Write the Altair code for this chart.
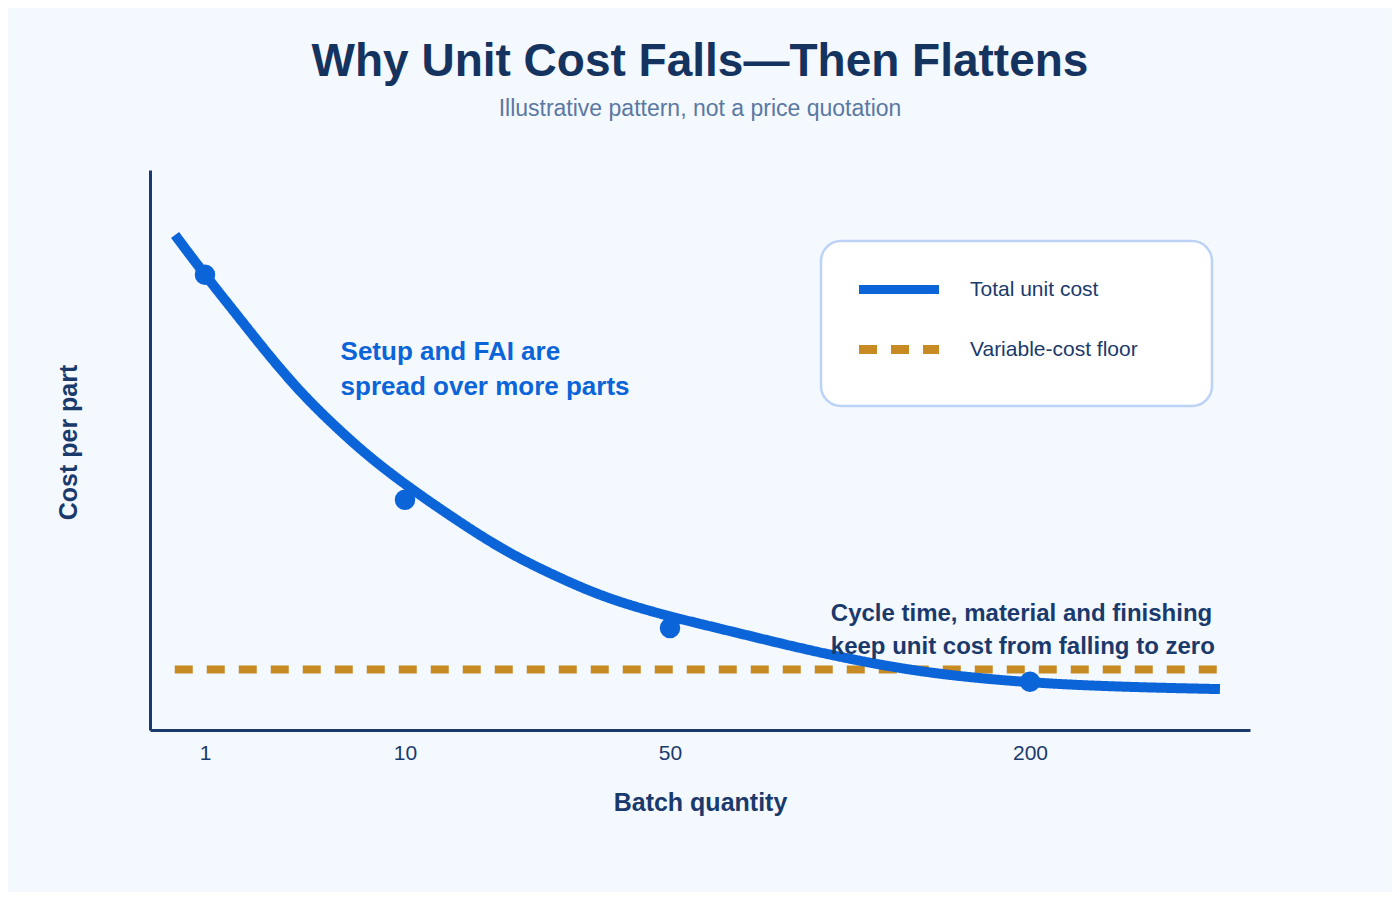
import altair as alt
import pandas as pd

# ---- data ----
series_names = ["Total unit cost", "Variable-cost floor"]
series_colors = ["#0b64d8", "#c88a22"]

curve_qty = [0.455, 1, 2.44, 3.93, 5.41, 6.94, 8.43, 10.75, 17.25, 24.8, 32.3, 39.9, 47.4,
             56.3, 83.3, 112.5, 154.2, 200, 281.8, 372.7]
curve_cost = [88.4, 81.25, 74.1, 66.6, 59.8, 53.9, 48.6, 43.2, 37.9, 32.1, 27.7, 23.75, 21.1,
              19.6, 16.8, 13.75, 10.2, 8.4, 7.7, 7.3]

floor_qty = [0.45, 371]
floor_cost = [10.8, 10.8]

point_qty = [1, 10, 50, 200]
point_cost = [81.3, 41.1, 18.2, 8.6]

tick_values = [1, 10, 50, 200]

note_qty = [7.1, 117]
note_cost = [66.1, 19.5]
note_lines = [["Setup and FAI are", "spread over more parts"],
              ["Cycle time, material and finishing", "keep unit cost from falling to zero"]]

FONT = "Liberation Sans"
NAVY = "#1b3a6c"
BG = "#f4f8ff"

curve_df = pd.DataFrame({"qty": curve_qty, "cost": curve_cost, "series": series_names[0]})
floor_df = pd.DataFrame({"qty": floor_qty, "cost": floor_cost, "series": series_names[1]})
point_df = pd.DataFrame({"qty": point_qty, "cost": point_cost})
note1_df = pd.DataFrame({"qty": [note_qty[0]], "cost": [note_cost[0]], "txt": [note_lines[0]]})
note2_df = pd.DataFrame({"qty": [note_qty[1]], "cost": [note_cost[1]], "txt": [note_lines[1]]})

x_scale = alt.Scale(type="linear", domain=[0, 1, 10, 50, 200, 400],
                    range=[0, 55, 255, 520, 880, 1100], nice=False, zero=False)
y_scale = alt.Scale(domain=[0, 100], nice=False, zero=True)

x_enc = alt.X("qty:Q", scale=x_scale,
              axis=alt.Axis(title="Batch quantity", values=tick_values, grid=False,
                            ticks=False, labelPadding=12, titlePadding=27,
                            labelFontSize=21, titleFontSize=25, labelFont=FONT, titleFont=FONT,
                            labelColor=NAVY, titleColor=NAVY, titleFontWeight="bold",
                            domainColor=NAVY, domainWidth=3, labelFlush=False))
y_enc = alt.Y("cost:Q", scale=y_scale,
              axis=alt.Axis(title="Cost per part", labels=False, ticks=False, grid=False,
                            titlePadding=69, titleY=272, titleFontSize=25, titleFont=FONT,
                            titleColor=NAVY, titleFontWeight="bold",
                            domainColor=NAVY, domainWidth=3))

color_scale = alt.Scale(domain=series_names, range=series_colors)
dash_scale = alt.Scale(domain=series_names, range=[[1, 0], [18, 14]])

# the (transparent) legend title sits to the right of the entries and only widens the box
legend = alt.Legend(title="Legend", titleOrient="right", titleOpacity=0, titleFontSize=10,
                    titlePadding=0, titleFont=FONT,
                    orient="none", legendX=671, legendY=71,
                    padding=38, fillColor="white", strokeColor="#bcd2f6", cornerRadius=20,
                    symbolType="M-8,0H8", symbolSize=100, symbolStrokeWidth=9,
                    symbolOffset=29.5, labelOffset=60.5, rowPadding=23, labelLimit=400,
                    labelFontSize=21, labelFont=FONT, labelColor=NAVY)

curve = alt.Chart(curve_df).mark_line(interpolate="basis", strokeWidth=10, strokeCap="butt").encode(
    x=x_enc, y=y_enc,
    color=alt.Color("series:N", scale=color_scale, legend=legend),
    strokeDash=alt.StrokeDash("series:N", scale=dash_scale, legend=legend),
)
floor = alt.Chart(floor_df).mark_line(strokeWidth=8, strokeCap="butt").encode(
    x="qty:Q", y="cost:Q",
    color=alt.Color("series:N", scale=color_scale, legend=legend),
    strokeDash=alt.StrokeDash("series:N", scale=dash_scale, legend=legend),
)
points = alt.Chart(point_df).mark_circle(size=420, opacity=1, color=series_colors[0]).encode(
    x="qty:Q", y="cost:Q")

note1 = alt.Chart(note1_df).mark_text(align="left", baseline="alphabetic", fontSize=26,
                                      fontWeight="bold", font=FONT, color=series_colors[0],
                                      lineHeight=35).encode(x="qty:Q", y="cost:Q", text="txt")
note2 = alt.Chart(note2_df).mark_text(align="left", baseline="alphabetic", fontSize=24,
                                      fontWeight="bold", font=FONT, color=NAVY,
                                      lineHeight=33).encode(x="qty:Q", y="cost:Q", text="txt")

chart = alt.layer(floor, curve, points, note1, note2).properties(
    width=1100, height=560,
    autosize=alt.AutoSizeParams(type="none"),
    padding={"left": 142, "top": 162, "right": 142, "bottom": 162},
    title=alt.TitleParams(text="Why Unit Cost Falls\u2014Then Flattens",
                          subtitle="Illustrative pattern, not a price quotation",
                          anchor="middle", frame="group", fontSize=46, font=FONT,
                          fontWeight="bold", color="#15335f", subtitleFont=FONT,
                          subtitleFontSize=23, subtitleColor="#5a79a2",
                          subtitlePadding=12, offset=48),
).configure(background=BG).configure_view(stroke=None).configure_legend(strokeWidth=2.5)

chart.save("out.html", embed_options={"renderer": "svg", "actions": False})
